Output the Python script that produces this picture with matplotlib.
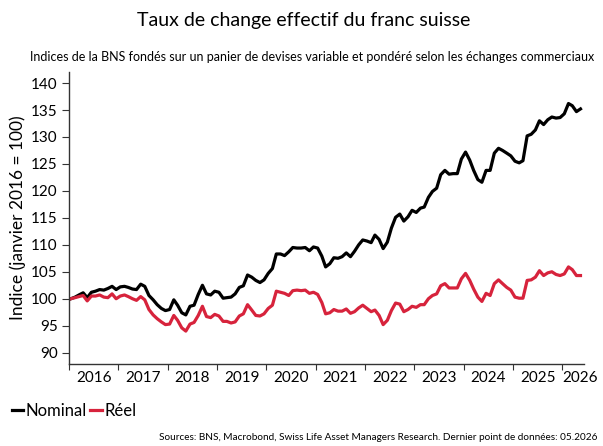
import matplotlib
matplotlib.use("Agg")
import matplotlib.pyplot as plt
import pandas as pd
import datetime as dt

plt.rcParams['font.family'] = ['Lato', 'DejaVu Sans']

# monthly index values, Jan 2016 - May 2026 (janvier 2016 = 100)
nominal = [
    100.0, 100.3, 100.7, 101.1, 100.2, 101.2, 101.4, 101.7, 101.6, 101.9, 102.3, 101.7,
    102.2, 102.3, 102.1, 101.8, 101.7, 102.7, 102.3, 100.6, 99.8, 98.9, 98.2, 97.8,
    98.0, 99.8, 98.8, 97.4, 97.0, 98.6, 98.8, 100.8, 102.5, 100.9, 100.7, 101.4,
    101.2, 100.1, 100.2, 100.3, 100.9, 102.1, 102.4, 104.4, 104.0, 103.4, 103.0, 103.5,
    104.7, 105.6, 108.3, 108.3, 108.0, 108.7, 109.5, 109.4, 109.4, 109.5, 108.9, 109.6,
    109.4, 107.9, 105.9, 106.5, 107.6, 107.5, 107.8, 108.5, 107.8, 108.8, 110.0, 110.9,
    110.7, 110.4, 111.8, 111.0, 109.3, 110.5, 113.1, 115.1, 115.7, 114.4, 115.2, 116.4,
    116.0, 116.8, 117.0, 118.8, 119.9, 120.5, 123.0, 123.8, 123.1, 123.2, 123.2, 125.9,
    127.2, 125.7, 123.8, 122.1, 121.6, 123.8, 123.8, 127.0, 127.9, 127.5, 127.0, 126.5,
    125.5, 125.2, 125.6, 130.2, 130.5, 131.3, 133.0, 132.3, 133.2, 133.7, 133.5, 133.6,
    134.3, 136.2, 135.8, 134.7, 135.2,
]
reel = [
    100.0, 100.2, 100.4, 100.6, 99.6, 100.5, 100.5, 100.7, 100.3, 100.2, 100.9, 100.0,
    100.5, 100.7, 100.4, 100.0, 99.7, 100.4, 99.8, 98.0, 97.0, 96.3, 95.7, 95.2,
    95.3, 96.9, 96.0, 94.6, 94.0, 95.3, 95.6, 96.9, 98.6, 96.7, 96.5, 97.1,
    96.8, 95.8, 95.8, 95.5, 95.7, 96.8, 97.2, 98.9, 97.9, 96.9, 96.8, 97.2,
    98.2, 98.8, 101.4, 101.2, 101.0, 100.6, 101.5, 101.6, 101.5, 101.6, 101.0, 101.2,
    100.8, 99.3, 97.2, 97.4, 98.0, 97.7, 97.7, 98.1, 97.3, 97.6, 98.3, 98.8,
    98.2, 97.6, 97.9, 96.9, 95.2, 96.0, 97.8, 99.2, 99.0, 97.6, 98.0, 98.6,
    98.4, 98.9, 98.9, 100.0, 100.6, 100.9, 102.4, 102.8, 102.0, 102.0, 102.0, 103.7,
    104.7, 103.4, 101.8, 100.3, 99.5, 101.0, 100.6, 102.8, 103.5, 102.8, 102.1, 101.6,
    100.3, 100.1, 100.1, 103.4, 103.5, 104.0, 105.2, 104.3, 104.8, 105.0, 104.5, 104.3,
    104.6, 105.9, 105.4, 104.3, 104.3,
]
dates = pd.date_range('2016-01-01', periods=len(nominal), freq='MS') + pd.Timedelta(days=14)

years = list(range(2016, 2027))
yticks = [90, 95, 100, 105, 110, 115, 120, 125, 130, 135, 140]

red = '#d7233c'

fig = plt.figure(figsize=(6.03, 4.46), dpi=100)
ax = fig.add_axes([0.1144, 0.1839, 0.8541, 0.6553])

ax.plot(dates, nominal, color='black', lw=2.3, label='Nominal', solid_joinstyle='round')
ax.plot(dates, reel, color=red, lw=2.3, label='Réel', solid_joinstyle='round')

ax.set_xlim(dt.date(2016, 1, 1), dt.date(2026, 6, 10))
ax.set_ylim(87.9, 142.1)
ax.set_yticks(yticks)
ax.tick_params(axis='y', labelsize=11, length=5, width=0.8, color='#333333', pad=3)

# year ticks at year start, labels centred in each year
ax.set_xticks([dt.date(y, 1, 1) for y in years])
ax.set_xticklabels([])
ax.tick_params(axis='x', which='major', length=4, width=0.8, color='#333333')
lab_pos = [dt.date(y, 7, 2) for y in years[:-1]] + [dt.date(2026, 5, 15)]
ax.set_xticks(lab_pos, minor=True)
ax.set_xticklabels([str(y) for y in years], minor=True)
ax.tick_params(axis='x', which='minor', length=0, labelsize=11, pad=5)

for s in ['top', 'right']:
    ax.spines[s].set_visible(False)
for s in ['left', 'bottom']:
    ax.spines[s].set_color('#333333')
    ax.spines[s].set_linewidth(1.0)

ax.set_ylabel('Indice (janvier 2016 = 100)', fontsize=12.5, labelpad=4)

fig.text(0.503, 0.955, 'Taux de change effectif du franc suisse', fontsize=14, ha='center', va='center')
fig.text(0.05, 0.872, 'Indices de la BNS fondés sur un panier de devises variable et pondéré selon les échanges commerciaux',
         fontsize=9, ha='left', va='center')

fig.legend(loc='center left', bbox_to_anchor=(0.0, 0.078), ncol=2, frameon=False, fontsize=12,
           handlelength=0.7, handletextpad=0.15, columnspacing=0.2, borderaxespad=0.3)

fig.text(0.99, 0.018, 'Sources: BNS, Macrobond, Swiss Life Asset Managers Research. Dernier point de données: 05.2026',
         fontsize=7.2, ha='right', va='center')

fig.savefig('out.png', dpi=100)
